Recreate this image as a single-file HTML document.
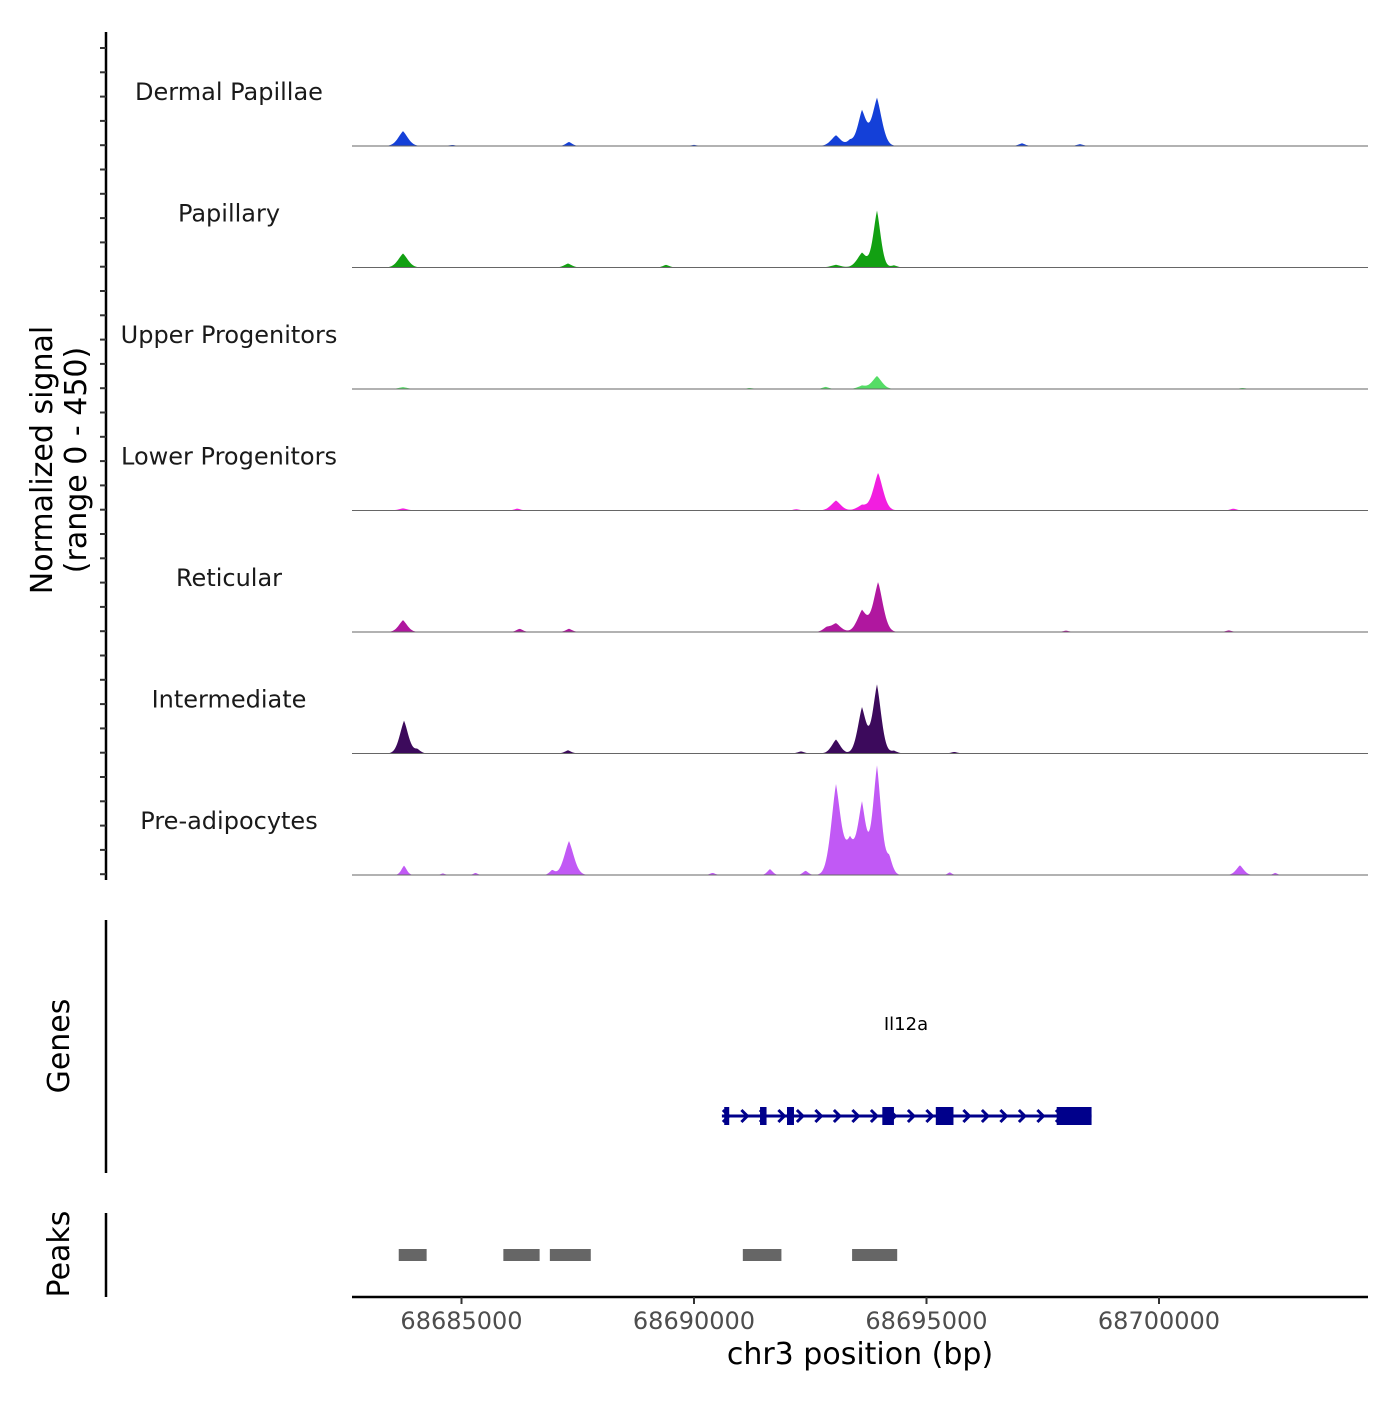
<!DOCTYPE html>
<html><head><meta charset="utf-8"><style>
body{margin:0;background:#fff}
svg text{font-family:"DejaVu Sans","Liberation Sans",sans-serif}
</style></head><body>
<svg id="c" width="1400" height="1400" viewBox="0 0 1400 1400" xmlns="http://www.w3.org/2000/svg">
<rect width="1400" height="1400" fill="#fff"/>
<text x="52" y="460" font-size="30" text-anchor="middle" transform="rotate(-90 52 460)">Normalized signal</text>
<text x="86" y="460" font-size="30" text-anchor="middle" transform="rotate(-90 86 460)">(range 0 - 450)</text>
<text x="69" y="1046" font-size="30" text-anchor="middle" transform="rotate(-90 69 1046)">Genes</text>
<text x="69" y="1254" font-size="30" text-anchor="middle" transform="rotate(-90 69 1254)">Peaks</text>
<line x1="106" y1="32" x2="106" y2="880" stroke="#000" stroke-width="2.5"/>
<line x1="106" y1="920" x2="106" y2="1173" stroke="#000" stroke-width="2.5"/>
<line x1="106" y1="1213" x2="106" y2="1297" stroke="#000" stroke-width="2.5"/>
<line x1="352" y1="1297" x2="1368" y2="1297" stroke="#000" stroke-width="2.5"/>
<text x="860" y="1364" font-size="30" text-anchor="middle">chr3 position (bp)</text>
<g id="tracks"></g><g id="genes"></g><g id="peaks"></g><g id="xt"></g>
</svg>
<script>
const trackNames=["Dermal Papillae","Papillary","Upper Progenitors","Lower Progenitors","Reticular","Intermediate","Pre-adipocytes"];
const trackColors=["#1440d8","#12a012","#55dd66","#f21ee0","#b0179f","#3c0a5c","#c159f5"];
// peaks per track: [position bp, signal value, half-width bp]
const dermalPeaks=[[68683742,55,90],[68687312,15,60],[68693053,40,90],[68693354,18,60],[68693612,130,80],[68693935,178,90],[68697053,10,60],[68698300,7,60],[68684800,4,60],[68690000,4,60]];
const papillaryPeaks=[[68683742,52,90],[68687290,15,70],[68689400,10,60],[68693053,10,90],[68693612,55,90],[68693935,210,70],[68694300,8,60]];
const upperPeaks=[[68683742,7,80],[68691200,4,60],[68692830,8,60],[68693612,12,80],[68693935,48,90],[68701800,4,60]];
const lowerPeaks=[[68683742,8,80],[68686200,7,60],[68693053,37,90],[68693612,20,90],[68693960,140,90],[68701600,7,60],[68692200,5,60]];
const reticularPeaks=[[68683742,44,80],[68686250,12,60],[68687312,12,60],[68692850,14,70],[68693053,32,90],[68693612,80,90],[68693960,185,90],[68698000,5,60],[68701500,6,60]];
const intermediatePeaks=[[68683764,122,80],[68684050,15,60],[68687290,12,60],[68692300,8,60],[68693053,52,80],[68693612,170,80],[68693935,255,80],[68694300,10,60],[68695600,6,60]];
const preadiPeaks=[[68683764,35,50],[68684600,6,40],[68685300,8,40],[68686950,18,50],[68687312,126,90],[68690400,8,50],[68691634,22,50],[68692400,16,50],[68693053,333,90],[68693354,120,90],[68693612,260,80],[68693935,404,80],[68694200,60,60],[68695500,10,40],[68701741,36,70],[68702500,8,40]];
const allPeaks=[dermalPeaks,papillaryPeaks,upperPeaks,lowerPeaks,reticularPeaks,intermediatePeaks,preadiPeaks];
const xTicks=[68685000,68690000,68695000,68700000];
const geneName="Il12a";
const geneStart=68690600, geneEnd=68698550;
const exons=[[68690650,68690750],[68691420,68691560],[68692000,68692150],[68694050,68694300],[68695200,68695580],[68697800,68698550]];
const peakRegions=[[68683650,68684250],[68685900,68686680],[68686900,68687780],[68691050,68691880],[68693400,68694370]];

const X0=352,X1=1368,D0=68682645,D1=68704495;
const x=v=>X0+(v-D0)/(D1-D0)*(X1-X0);
const TH=121.5, B0=146, YMAX=450;
const y=(v,b)=>b-v/YMAX*TH;
const NS="http://www.w3.org/2000/svg";
function mk(t,a,p){const e=document.createElementNS(NS,t);for(const k in a)e.setAttribute(k,a[k]);p.appendChild(e);return e;}
const svg=document.getElementById('c');
for(let k=0;k<35;k++){const ty=48+k*24.3;if(ty>880)break;const t=mk('line',{x1:100,y1:ty,x2:106,y2:ty,stroke:'#333','stroke-width':2},svg);

}
const tg=document.getElementById('tracks');
allPeaks.forEach((pk,i)=>{
  const base=B0+i*TH;
  const g=mk('g',{},tg);
  
  
  const lab=mk('text',{x:229,y:base-46,'font-size':24,'text-anchor':'middle',fill:'#1a1a1a'},g);
  lab.textContent=trackNames[i];
  
  
  let d='M'+X0+','+base;
  for(let px=X0;px<=X1;px+=1){
    const bp=D0+(px-X0)/(X1-X0)*(D1-D0);let s=0;
    pk.forEach(p=>{const u=(bp-p[0])/(p[2]*2.2);s+=p[1]*Math.exp(-0.6*Math.abs(u)-u*u);});
    d+=' L'+px+','+y(s,base).toFixed(2);
  }
  d+=' L'+X1+','+base+' Z';
  const a=mk('path',{d:d,fill:trackColors[i]},g);
  
  
  const bl=mk('line',{x1:X0,y1:base,x2:X1,y2:base,stroke:'#666','stroke-width':1},g);
  
  
});
const gg=document.getElementById('genes');
const gl=mk('text',{x:906,y:1030,'font-size':18,'text-anchor':'middle',fill:'#000'},gg);
gl.textContent=geneName;


const GY=1116;
const gline=mk('line',{x1:x(geneStart),y1:GY,x2:x(geneEnd),y2:GY,stroke:'#00008b','stroke-width':3},gg);


for(let px=x(geneStart)+4;px<x(geneEnd)-4;px+=18.5){
  const ar=mk('path',{d:`M${px-3},${GY-6} L${px+3},${GY} L${px-3},${GY+6}`,fill:'none',stroke:'#00008b','stroke-width':3},gg);
  
  
}
exons.forEach(e=>{const r=mk('rect',{x:x(e[0]),y:GY-9,width:Math.max(5,x(e[1])-x(e[0])),height:18,fill:'#00008b'},gg);

});
const pg=document.getElementById('peaks');
peakRegions.forEach(p=>{const r=mk('rect',{x:x(p[0]),y:1249,width:x(p[1])-x(p[0]),height:12,fill:'#666'},pg);

});
const xg=document.getElementById('xt');
xTicks.forEach(v=>{const t=mk('line',{x1:x(v),y1:1297,x2:x(v),y2:1304,stroke:'#333','stroke-width':2},xg);


const l=mk('text',{x:x(v),y:1329,'font-size':24,'text-anchor':'middle',fill:'#4d4d4d'},xg);
l.textContent=v;

});
</script>
</body></html>
